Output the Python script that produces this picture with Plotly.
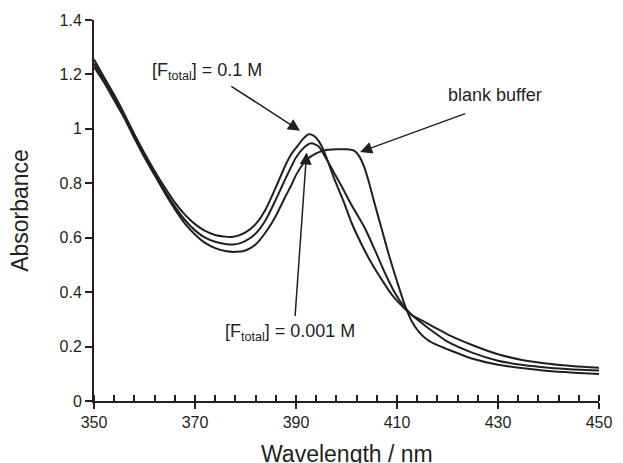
import plotly.graph_objects as go

# ---- data ----
wl_01 = [350, 352, 354, 356, 358, 360, 362, 364, 366, 368, 370, 372, 374, 376, 377, 378, 380,
         382, 384, 386, 388, 389, 390, 391.5, 392.5, 393.5, 394.5, 395.5, 397.5, 399.5, 401,
         403, 405, 407, 409, 411.5, 413, 415, 417.5, 420, 425, 430, 435, 440, 445, 450]
abs_01 = [1.255, 1.19, 1.125, 1.055, 0.98, 0.91, 0.845, 0.785, 0.73, 0.685, 0.65, 0.625, 0.61, 0.604, 0.603, 0.605, 0.62,
          0.65, 0.705, 0.785, 0.87, 0.905, 0.93, 0.965, 0.98, 0.975, 0.955, 0.92, 0.82, 0.73, 0.655,
          0.575, 0.505, 0.445, 0.39, 0.34, 0.315, 0.295, 0.27, 0.245, 0.205, 0.172, 0.15, 0.137, 0.128, 0.122]

wl_0001 = [350, 352, 354, 356, 358, 360, 362, 364, 366, 368, 370, 372, 374, 376, 377.5, 379, 380,
           382, 384, 386, 387, 388, 390, 391.5, 393, 394.5, 396, 397.5, 399, 401, 403.5,
           405.5, 407.5, 409.5, 411.5, 413, 415, 417.5, 420, 425, 430, 435, 440, 445, 450]
abs_0001 = [1.24, 1.18, 1.115, 1.045, 0.97, 0.9, 0.835, 0.772, 0.715, 0.665, 0.627, 0.6, 0.585, 0.577, 0.575, 0.58, 0.588,
            0.615, 0.665, 0.74, 0.78, 0.82, 0.895, 0.93, 0.947, 0.935, 0.89, 0.84, 0.79, 0.72, 0.64,
            0.56, 0.475, 0.40, 0.345, 0.315, 0.285, 0.25, 0.218, 0.177, 0.148, 0.132, 0.122, 0.116, 0.112]

wl_blank = [350, 352, 354, 356, 358, 360, 362, 364, 366, 368, 370, 372, 374, 376, 378, 380,
            382, 384, 386, 388, 389, 390, 392, 394, 396, 398, 400, 401.5, 402.5, 403.5, 404.5,
            405.5, 407, 408.5, 410, 411.5, 413, 414.5, 416, 418, 420, 425, 430, 435, 440, 445, 450]
abs_blank = [1.228, 1.17, 1.105, 1.04, 0.965, 0.895, 0.83, 0.765, 0.705, 0.652, 0.612, 0.581, 0.562, 0.551, 0.548, 0.553,
             0.575, 0.62, 0.68, 0.755, 0.79, 0.83, 0.885, 0.91, 0.922, 0.925, 0.925, 0.92, 0.9, 0.86, 0.80,
             0.73, 0.63, 0.53, 0.44, 0.355, 0.29, 0.25, 0.225, 0.205, 0.19, 0.155, 0.133, 0.12, 0.11, 0.104, 0.099]

x_ticks = [350, 370, 390, 410, 430, 450]
y_ticks = [0, 0.2, 0.4, 0.6, 0.8, 1, 1.2, 1.4]
y_ticklabels = ["0", "0.2", "0.4", "0.6", "0.8", "1", "1.2", "1.4"]

INK = "#231f20"
FONT = "Liberation Sans, Arial, sans-serif"

fig = go.Figure()
for xs, ys, name in [(wl_01, abs_01, "0.1 M"), (wl_0001, abs_0001, "0.001 M"), (wl_blank, abs_blank, "blank buffer")]:
    fig.add_trace(go.Scatter(x=xs, y=ys, mode="lines", name=name,
                             line=dict(color=INK, width=2, shape="spline", smoothing=0.6),
                             showlegend=False, hoverinfo="skip"))

# invisible trace on overlay axis for the upper halves of the crossing major ticks
fig.add_trace(go.Scatter(x=[350, 450], y=[None, None], xaxis="x2", mode="lines",
                         showlegend=False, hoverinfo="skip"))

fig.update_layout(
    width=623, height=463,
    margin=dict(l=94, r=24, t=16, b=62),
    paper_bgcolor="white", plot_bgcolor="white",
    font=dict(family=FONT, color=INK, size=16),
    xaxis=dict(range=[350, 450], tickvals=x_ticks, ticks="outside", ticklen=6, tickwidth=1.5,
               tickcolor=INK, showline=True, linecolor=INK, linewidth=2, showgrid=False,
               zeroline=False, tickfont=dict(size=16), automargin=False,
               minor=dict(ticks="inside", dtick=4, tick0=350, ticklen=6, tickwidth=1.5, tickcolor=INK)),
    xaxis2=dict(range=[350, 450], overlaying="x", tickvals=x_ticks, ticks="inside",
                ticklen=6, tickwidth=1.5, tickcolor=INK, showticklabels=False, showline=False,
                showgrid=False, zeroline=False, side="bottom", automargin=False),
    yaxis=dict(range=[0, 1.4], tickvals=y_ticks, ticktext=y_ticklabels, ticks="outside", ticklen=7,
               tickwidth=1.5, tickcolor=INK, showline=True, linecolor=INK, linewidth=2,
               showgrid=False, zeroline=False, tickfont=dict(size=16),
               title=dict(text="Absorbance", font=dict(size=23), standoff=24)),
)

# x-axis title (placed as paper annotation so it can sit at the very bottom edge like the original)
fig.add_annotation(text="Wavelength / nm", xref="paper", yref="paper", x=0.5, y=0,
                   xanchor="center", yanchor="top", yshift=-38, showarrow=False,
                   font=dict(size=23, color=INK, family=FONT))

arrow_style = dict(showarrow=True, arrowhead=2, arrowsize=1.6, arrowwidth=1.5, arrowcolor=INK,
                   xref="x", yref="y", axref="x", ayref="y", text="")
# arrows (tail -> head)
fig.add_annotation(x=390.8, y=0.993, ax=376.9, ay=1.16, **arrow_style)
fig.add_annotation(x=402.7, y=0.915, ax=423.8, ay=1.058, **arrow_style)
fig.add_annotation(x=392.1, y=0.913, ax=389.8, ay=0.307, **arrow_style)

label_style = dict(showarrow=False, xref="x", yref="y", bgcolor="white",
                   font=dict(size=18, color=INK, family=FONT))
fig.add_annotation(x=372.4, y=1.211, text="[F<sub>total</sub>] = 0.1 M", **label_style)
fig.add_annotation(x=429.4, y=1.123, text="blank buffer", **label_style)
fig.add_annotation(x=388.8, y=0.252, text="[F<sub>total</sub>] = 0.001 M", **label_style)

fig.write_html("out.html", config={"displayModeBar": False},
               post_script="document.body.style.margin='0px';")
